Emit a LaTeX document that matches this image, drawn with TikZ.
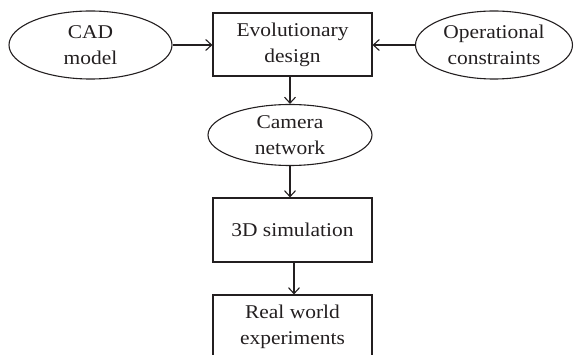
\documentclass[tikz,border=0pt]{standalone}
\usepackage{fontspec}
\setmainfont[FakeStretch=1.1]{Liberation Serif}
\usetikzlibrary{shapes.geometric,arrows.meta}
\definecolor{ink}{RGB}{35,31,32}
\begin{document}
\begin{tikzpicture}[x=1pt,y=-1pt,
  every node/.style={font=\fontsize{19.5}{26}\selectfont, text=ink, align=center, inner sep=0pt},
  stepbox/.style={draw=ink, line width=1.1pt, rectangle, minimum width=159pt, minimum height=63pt},
  oval/.style={draw=ink, line width=1.1pt, ellipse},
  conn/.style={draw=ink, line width=1.1pt, -{Straight Barb[length=6pt,width=11pt,line width=1.1pt]}}]
\useasboundingbox (0,0) rectangle (574,355);
\node[stepbox] (evo) at (292.5,44.5) {Evolutionary\\design};
\node[oval, minimum width=163pt, minimum height=68pt] (cad) at (90.5,45) {CAD\\model};
\node[oval, minimum width=157pt, minimum height=68pt] (ops) at (494,45) {Operational\\constraints};
\node[oval, minimum width=164pt, minimum height=61pt] (cam) at (290,135) {Camera\\network};
\node[stepbox, minimum height=64pt] (sim) at (292.5,230) {3D simulation};
\node[stepbox, minimum height=64pt] (real) at (292.5,327) {Real world\\experiments};
\draw[conn] (cad.east) -- (evo.west |- cad.east);
\draw[conn] (ops.west) -- (evo.east |- ops.west);
\draw[conn] (cam.north |- evo.south) -- (cam.north);
\draw[conn] (cam.south) -- (cam.south |- sim.north);
\draw[conn] ([xshift=1.5pt]sim.south) -- ([xshift=1.5pt]real.north);
\end{tikzpicture}
\end{document}
